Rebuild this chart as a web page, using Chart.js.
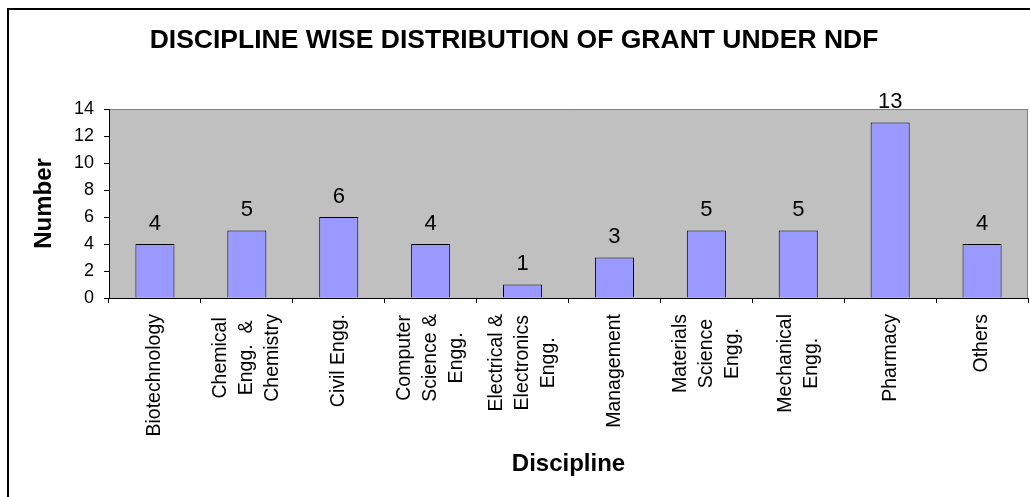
<!DOCTYPE html>
<html>
<head>
<meta charset="utf-8">
<title>Discipline wise distribution of grant under NDF</title>
<script src="https://cdn.jsdelivr.net/npm/chart.js@4.4.1/dist/chart.umd.min.js"></script>
<style>
  html, body { margin: 0; padding: 0; background: #fff; overflow: hidden; }
  #wrap { position: relative; width: 1030px; height: 497px; overflow: hidden; }
  #frame { position: absolute; left: 7px; top: 8px; width: 1100px; height: 600px;
           border-top: 2px solid #000; border-left: 2px solid #000; }
  #chart-bar { position: absolute; left: 0; top: 0; }
</style>
</head>
<body>
<div id="wrap">
  <div id="frame"></div>
  <canvas id="chart-bar" width="1030" height="497"></canvas>
</div>
<script>
// chart data
const categories = [
    ['Biotechnology'],
    ['Chemical', 'Engg.  &', 'Chemistry'],
    ['Civil Engg.'],
    ['Computer', 'Science &', 'Engg.'],
    ['Electrical &', 'Electronics', 'Engg.'],
    ['Management'],
    ['Materials', 'Science', 'Engg.'],
    ['Mechanical', 'Engg.'],
    ['Pharmacy'],
    ['Others']
];
const grants = [4, 5, 6, 4, 1, 3, 5, 5, 13, 4];
const yTicks = [0, 2, 4, 6, 8, 10, 12, 14];

const fontFamily = '"Liberation Sans", Arial, sans-serif';

// grey plot area with its grey top / right edge
const plotBackground = {
    id: 'plotBackground',
    beforeDraw(chart) {
        const {ctx, chartArea: a} = chart;
        ctx.save();
        ctx.fillStyle = '#C0C0C0';
        ctx.fillRect(a.left, a.top, a.right - a.left, a.bottom - a.top);
        ctx.strokeStyle = '#808080';
        ctx.lineWidth = 1;
        ctx.beginPath();
        ctx.moveTo(a.left, a.top + 0.5);
        ctx.lineTo(a.right - 0.5, a.top + 0.5);
        ctx.lineTo(a.right - 0.5, a.bottom);
        ctx.stroke();
        ctx.restore();
    }
};

// value above each bar
const barValues = {
    id: 'barValues',
    afterDatasetsDraw(chart) {
        const {ctx} = chart;
        const meta = chart.getDatasetMeta(0);
        ctx.save();
        ctx.font = '22px ' + fontFamily;
        ctx.fillStyle = '#000';
        ctx.textAlign = 'center';
        ctx.textBaseline = 'alphabetic';
        meta.data.forEach((bar, i) => {
            ctx.fillText(String(grants[i]), bar.x, bar.y - 14.5);
        });
        ctx.restore();
    }
};

// vertical category labels, lines centred on the tick like the original
const categoryLabels = {
    id: 'categoryLabels',
    afterDraw(chart) {
        const {ctx, chartArea} = chart;
        const xScale = chart.scales.x;
        const lineGap = 26;
        ctx.save();
        ctx.font = '19.5px ' + fontFamily;
        ctx.fillStyle = '#000';
        ctx.textAlign = 'center';
        ctx.textBaseline = 'middle';
        categories.forEach((lines, i) => {
            const px = xScale.getPixelForValue(i);
            const longest = Math.max(...lines.map(l => ctx.measureText(l).width));
            const cy = chartArea.bottom + 16 + longest / 2;
            lines.forEach((line, j) => {
                const lx = px + (j - (lines.length - 1) / 2) * lineGap;
                ctx.save();
                ctx.translate(lx, cy);
                ctx.rotate(-Math.PI / 2);
                ctx.fillText(line, 0, 0);
                ctx.restore();
            });
        });
        ctx.restore();
    }
};

let chartBar = document.getElementById('chart-bar').getContext('2d');

let barChart = new Chart(chartBar, {
    type: 'bar',
    data: {
        labels: categories,
        datasets: [{
            label: 'Number',
            data: grants,
            backgroundColor: '#9999FF',
            borderColor: '#000000',
            borderWidth: 1,
            categoryPercentage: 1,
            barPercentage: 0.425
        }]
    },
    options: {
        responsive: false,
        animation: false,
        layout: { padding: { left: 0, right: 2, top: 0, bottom: 0 } },
        plugins: {
            legend: { display: false },
            tooltip: { enabled: false },
            title: {
                display: true,
                text: 'DISCIPLINE WISE DISTRIBUTION OF GRANT UNDER NDF',
                color: '#000',
                font: { family: fontFamily, size: 26.5, weight: 'bold' },
                padding: { top: 24.6, bottom: 52.6 }
            }
        },
        scales: {
            x: {
                grid: { offset: true, drawOnChartArea: false, drawTicks: true, tickLength: 5, color: '#000' },
                border: { display: true, color: '#000', width: 1 },
                ticks: { display: false },
                title: {
                    display: true,
                    text: 'Discipline',
                    color: '#000',
                    font: { family: fontFamily, size: 24, weight: 'bold' },
                    padding: { top: 0, bottom: 18.6 }
                },
                afterFit(scale) { scale.height = 199; }
            },
            y: {
                min: yTicks[0],
                max: yTicks[yTicks.length - 1],
                grid: { drawOnChartArea: false, drawTicks: true, tickLength: 5, color: '#000' },
                border: { display: true, color: '#000', width: 1 },
                ticks: {
                    stepSize: yTicks[1] - yTicks[0],
                    padding: 10,
                    color: '#000',
                    font: { family: fontFamily, size: 18 }
                },
                title: {
                    display: true,
                    text: 'Number',
                    color: '#000',
                    font: { family: fontFamily, size: 24, weight: 'bold' },
                    padding: { top: 30.1, bottom: 0 }
                },
                afterFit(scale) { scale.width = 109; }
            }
        }
    },
    plugins: [plotBackground, barValues, categoryLabels]
});
</script>
</body>
</html>
